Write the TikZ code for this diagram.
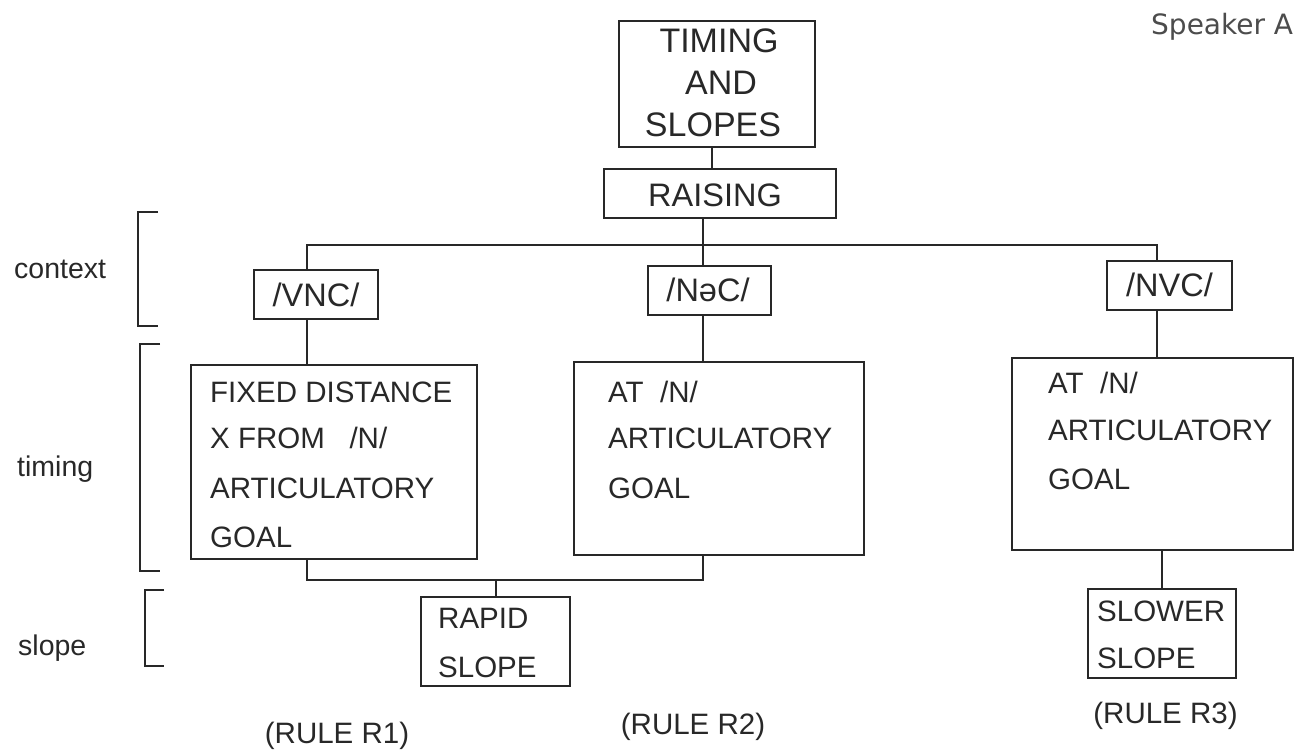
\documentclass[tikz,border=0pt]{standalone}
\usepackage{fontspec}
\setmainfont{Liberation Sans}
\newfontfamily\spkfont{DejaVu Sans}
\definecolor{ink}{RGB}{40,40,40}
\tikzset{
  box/.style={draw=ink, line width=1.7pt, inner sep=0pt, rectangle},
  conn/.style={draw=ink, line width=1.7pt},
  brk/.style={draw=ink, line width=1.2pt},
  toptxt/.style={font=\fontsize{34}{34}\selectfont, text=ink, inner sep=0pt, anchor=base},
  ctxtxt/.style={font=\fontsize{32.5}{32.5}\selectfont, text=ink, inner sep=0pt, anchor=base},
  lbl/.style={font=\fontsize{29.5}{29.5}\selectfont, text=ink, inner sep=0pt, anchor=base west},
  ruletxt/.style={font=\fontsize{29.5}{29.5}\selectfont, text=ink, inner sep=0pt, anchor=base},
  sidetxt/.style={font=\fontsize{28.5}{28.5}\selectfont, text=ink, inner sep=0pt, anchor=base west},
}
\begin{document}
\begin{tikzpicture}[x=1pt, y=-1pt]
\useasboundingbox (0,0) rectangle (1296,751);

% boxes
\node[box, minimum width=196pt, minimum height=126pt] (top) at (717,84) {};
\node[box, minimum width=232pt, minimum height=49pt] (raising) at (720,193.5) {};
\node[box, minimum width=124pt, minimum height=49pt] (vnc) at (316,294.5) {};
\node[box, minimum width=123pt, minimum height=49pt] (nec) at (709.5,290.5) {};
\node[box, minimum width=125pt, minimum height=49pt] (nvc) at (1169.5,285.5) {};
\node[box, minimum width=286pt, minimum height=194pt] (fixed) at (334,462) {};
\node[box, minimum width=290pt, minimum height=193pt] (mid) at (719,458.5) {};
\node[box, minimum width=281pt, minimum height=192pt] (right) at (1152.5,454) {};
\node[box, minimum width=149pt, minimum height=89pt] (rapid) at (495.5,641.5) {};
\node[box, minimum width=148pt, minimum height=89pt] (slower) at (1162,633.5) {};

% texts in boxes
\node[toptxt] (t1) at (719,53) {TIMING};
\node[toptxt] (t2) at (721,95) {AND};
\node[toptxt] (t3) at (713,137) {SLOPES};
\node[toptxt, font=\fontsize{32.5}{32.5}\selectfont] (rt) at (715,207) {RAISING};
\node[ctxtxt] (vnct) at (316,307) {/VNC/};
\node[ctxtxt] (nect) at (708,302) {/NəC/};
\node[ctxtxt] (nvct) at (1169.5,297) {/NVC/};

\node[lbl] (f1) at (210,402) {FIXED DISTANCE};
\node[lbl] (f2) at (210,448) {X FROM~~~/N/};
\node[lbl] (f3) at (210,498) {ARTICULATORY};
\node[lbl] (f4) at (210,547) {GOAL};

\node[lbl] (m1) at (608,402) {AT~~/N/};
\node[lbl] (m2) at (608,448) {ARTICULATORY};
\node[lbl] (m3) at (608,498) {GOAL};

\node[lbl] (r1) at (1048,393) {AT~~/N/};
\node[lbl] (r2) at (1048,440) {ARTICULATORY};
\node[lbl] (r3) at (1048,489) {GOAL};

\node[lbl] (p1) at (438,628) {RAPID};
\node[lbl] (p2) at (438,677) {SLOPE};
\node[lbl] (s1) at (1097,621) {SLOWER};
\node[lbl] (s2) at (1097,668) {SLOPE};

% rule labels
\node[ruletxt] (R1) at (337,743) {(RULE R1)};
\node[ruletxt] (R2) at (693,734) {(RULE R2)};
\node[ruletxt] (R3) at (1165.5,723) {(RULE R3)};

% side labels
\node[sidetxt] (lc) at (14,279) {context};
\node[sidetxt] (lt) at (17,476) {timing};
\node[sidetxt] (ls) at (18,655) {slope};
\node[inner sep=0pt, anchor=base west, text=black!70, font=\spkfont\fontsize{28}{28}\selectfont] (spk) at (1151,35) {Speaker A};

% brackets
\draw[brk] (158,212) -- (138,212) -- (138,326) -- (158,326);
\draw[brk] (160,344) -- (140,344) -- (140,571) -- (160,571);
\draw[brk] (164,590) -- (145,590) -- (145,666) -- (164,666);

% connector coordinates
\coordinate (bus) at (703,245);
\coordinate (busL) at (307,245);
\coordinate (busR) at (1157,245);
\coordinate (jn) at (496,580);

% connectors
\draw[conn] ([xshift=-5pt]top.south) -- ([xshift=-5pt]top.south |- raising.north);
\draw[conn] (bus |- raising.south) -- (bus |- nec.north);
\draw[conn] (busL |- vnc.north) -- (busL) -- (busR) -- (busR |- nvc.north);
\draw[conn] (busL |- vnc.south) -- (busL |- fixed.north);
\draw[conn] (bus |- nec.south) -- (bus |- mid.north);
\draw[conn] (busR |- nvc.south) -- (busR |- right.north);
\draw[conn] (busL |- fixed.south) |- (jn) -| (bus |- mid.south);
\draw[conn] (jn) -- (jn |- rapid.north);
\draw[conn] (slower.north |- right.south) -- (slower.north);
\end{tikzpicture}
\end{document}
